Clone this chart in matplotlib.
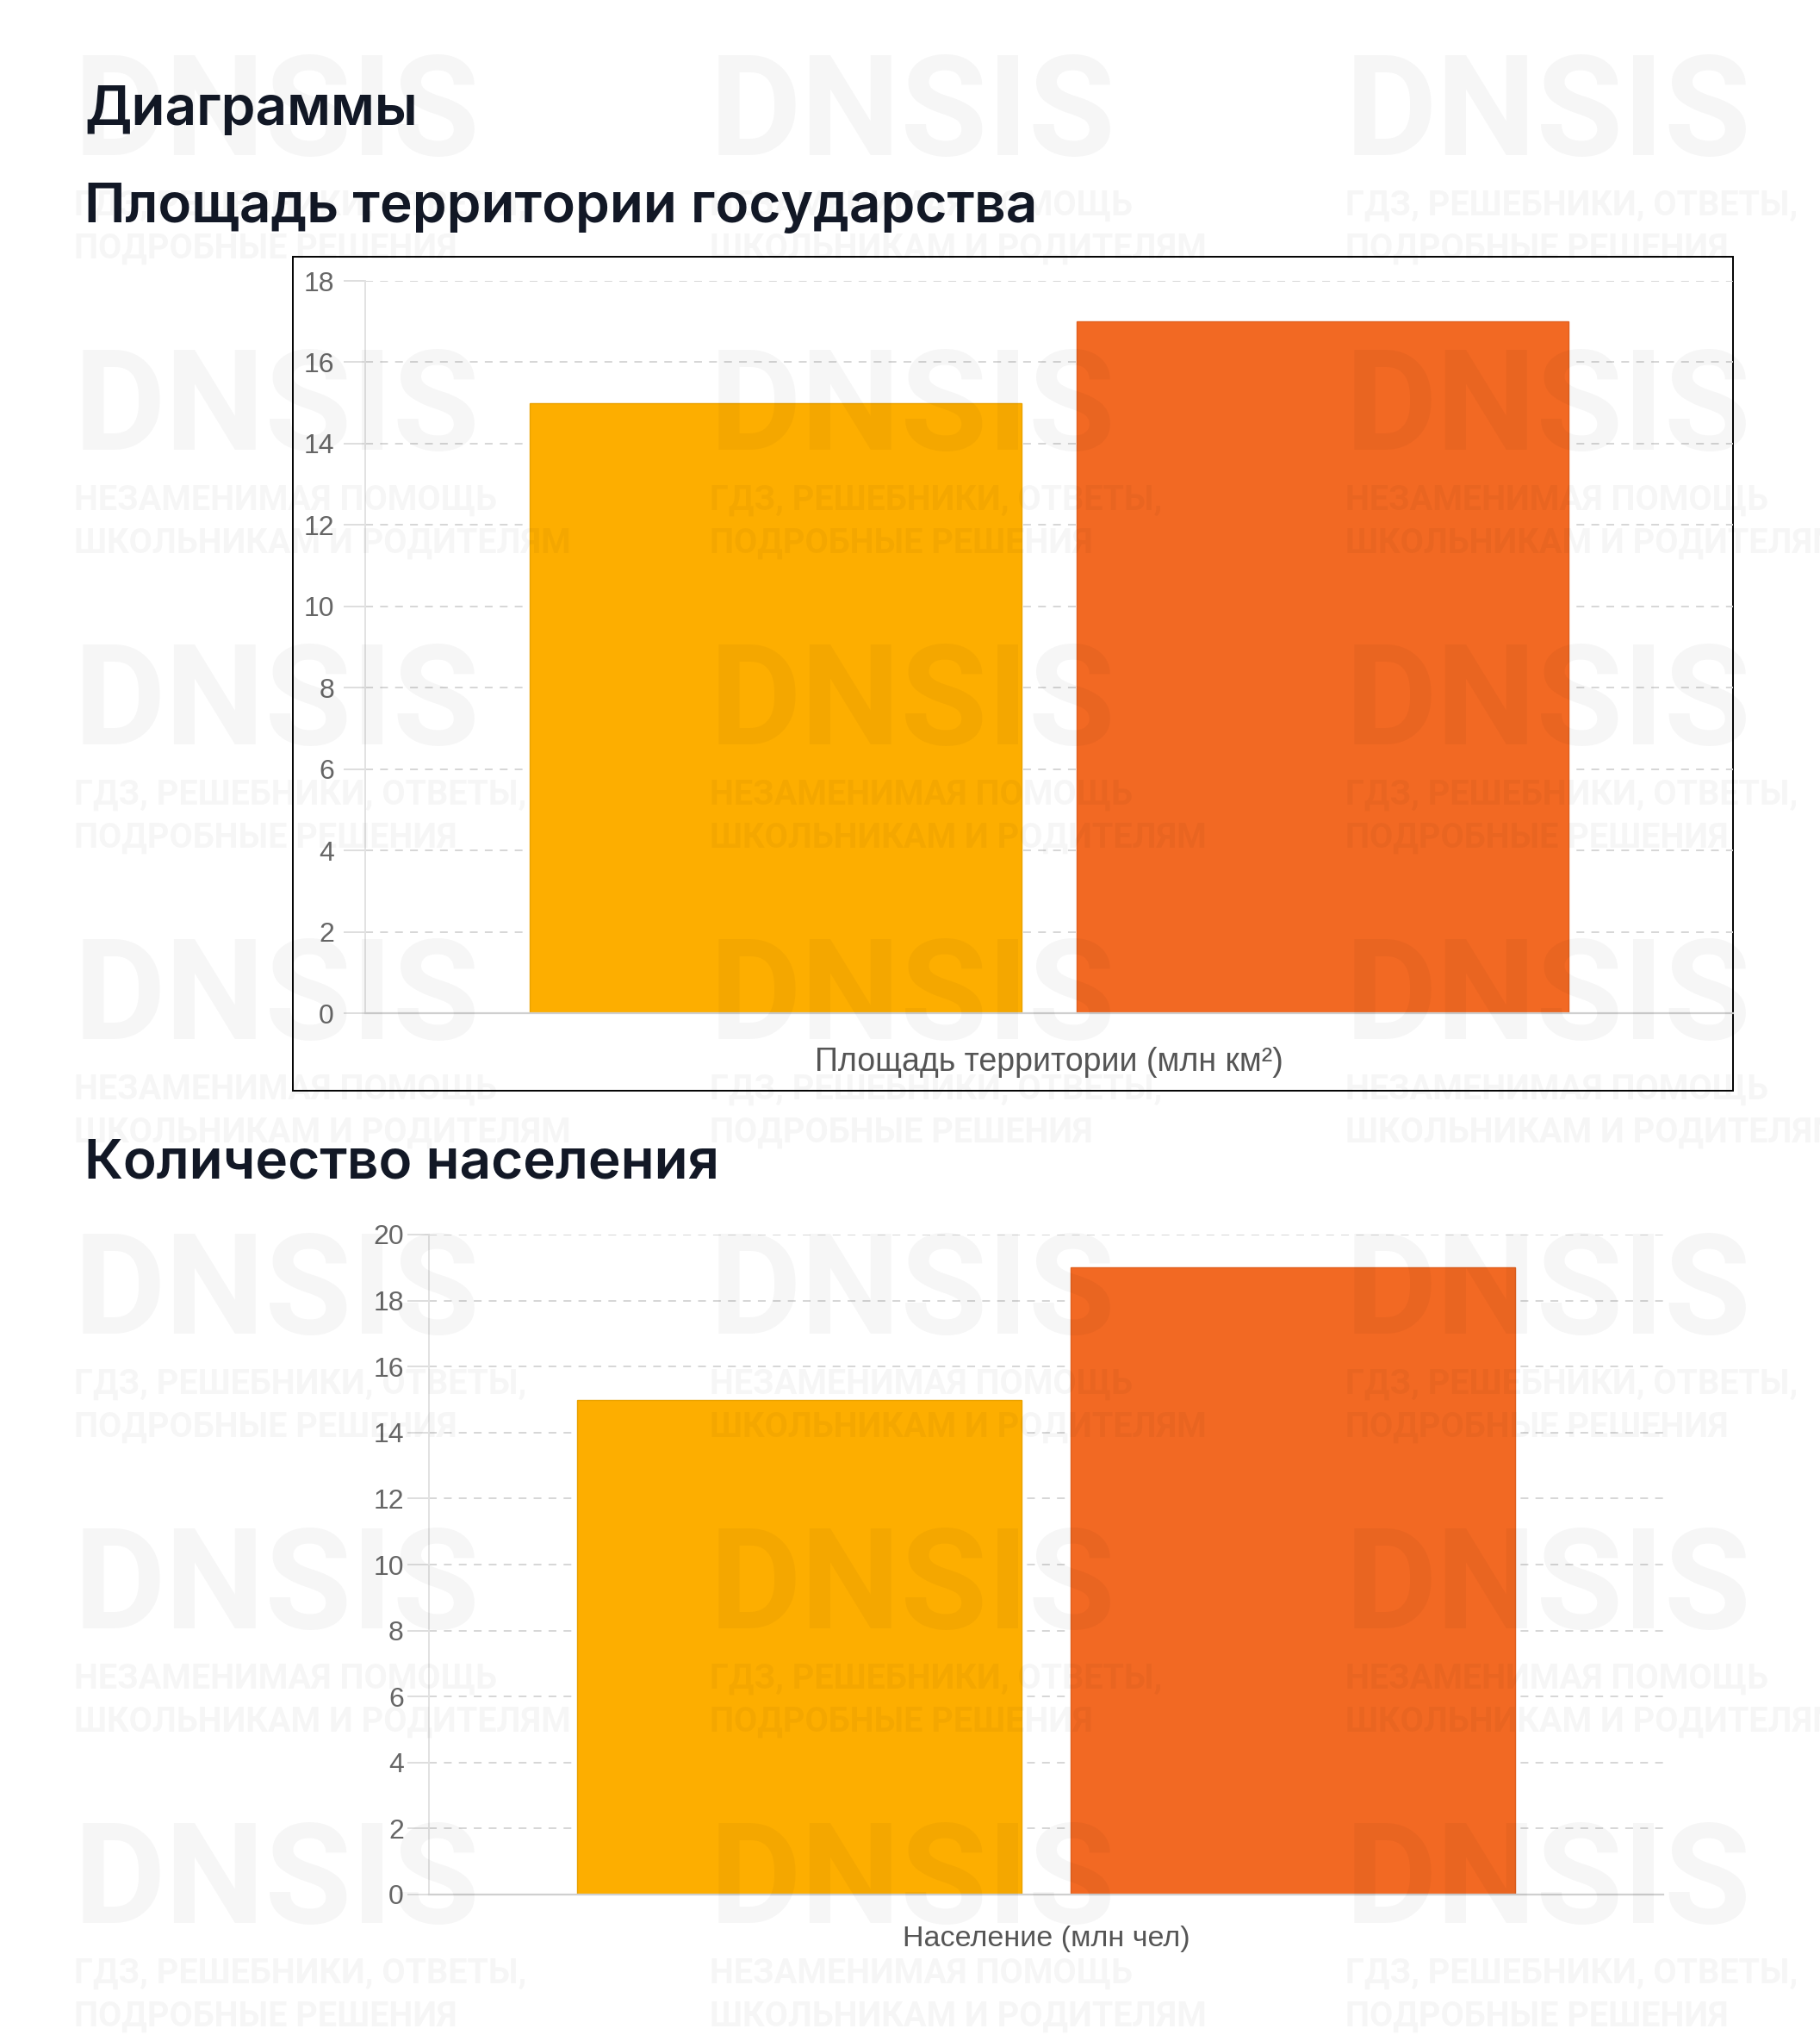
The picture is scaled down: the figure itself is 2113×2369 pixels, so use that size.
import matplotlib
matplotlib.use("Agg")
import matplotlib.pyplot as plt
from matplotlib.patches import Rectangle

# data
area_labels = ["Страна 1", "Страна 2"]
area_values = [15, 17]
area_ticks = list(range(0, 19, 2))
pop_values = [15, 19]
pop_ticks = list(range(0, 21, 2))
bar_colors = ["#fdae00", "#f26923"]

page_title = "Диаграммы"
area_title = "Площадь территории государства"
pop_title = "Количество населения"
area_xlabel = "Площадь территории (млн км²)"
pop_xlabel = "Население (млн чел)"

wm_big = "DNSIS"
wm_a = ["ГДЗ, РЕШЕБНИКИ, ОТВЕТЫ,", "ПОДРОБНЫЕ РЕШЕНИЯ"]
wm_b = ["НЕЗАМЕНИМАЯ ПОМОЩЬ", "ШКОЛЬНИКАМ И РОДИТЕЛЯМ"]

W, H = 2113, 2369
DPI = 100
plt.rcParams["lines.scale_dashes"] = False

fig = plt.figure(figsize=(W / DPI, H / DPI), dpi=DPI)
fig.patch.set_facecolor("white")


def px_axes(left, top, right, bottom, **kw):
    return fig.add_axes([left / W, 1 - bottom / H, (right - left) / W, (bottom - top) / H], **kw)


# background layer for titles and the frame around the first chart
bg = px_axes(0, 0, W, H, zorder=0)
bg.set_xlim(0, W)
bg.set_ylim(H, 0)
bg.axis("off")

title_font = dict(family=["Inter", "DejaVu Sans"], weight="semibold", color="#121826")
bg.text(98, 145, page_title, fontsize=46, va="baseline", **title_font)
bg.text(98, 258, area_title, fontsize=46, va="baseline", **title_font)
bg.text(98, 1367, pop_title, fontsize=46, va="baseline", **title_font)
bg.add_patch(Rectangle((340, 298), 2012 - 340, 1266 - 298, fill=False,
                       edgecolor="black", linewidth=1.4))

tick_font = ["Liberation Sans", "DejaVu Sans"]


def bar_chart(ax, values, ticks, xlabel, pad, xl_size, xl_pad):
    x = range(len(values))
    ax.bar(x, values, width=0.9, color=bar_colors, edgecolor=["#e9a200", "#e0601f"],
           linewidth=1.0, zorder=3)
    ax.set_xlim(-0.75, 1.75)
    ax.set_ylim(ticks[0], ticks[-1])
    ax.set_yticks(ticks)
    ax.set_xticks([])
    ax.set_facecolor("none")
    ax.grid(axis="y", color="#d6d6d6", linewidth=1.4, linestyle=(0, (6.5, 6.0)), zorder=1)
    for s in ["top", "right"]:
        ax.spines[s].set_visible(False)
    ax.spines["left"].set_color("#e2e2e2")
    ax.spines["left"].set_linewidth(1.4)
    ax.spines["bottom"].set_color("#cfcfcf")
    ax.spines["bottom"].set_linewidth(1.6)
    ax.spines["bottom"].set_zorder(4)
    ax.tick_params(axis="y", length=18, width=1.4, color="#dedede", pad=pad,
                   labelsize=23, labelcolor="#666666")
    for lab in ax.get_yticklabels():
        lab.set_family(tick_font)
    ax.set_xlabel(xlabel, fontsize=xl_size, color="#555555", family=tick_font, labelpad=xl_pad)


ax1 = px_axes(424, 326, 2012, 1176, zorder=2)
bar_chart(ax1, area_values, area_ticks, area_xlabel, 8, 27, 28)

ax2 = px_axes(498, 1433, 1931, 2199, zorder=2)
bar_chart(ax2, pop_values, pop_ticks, pop_xlabel, 3, 24.5, 26)

# faint watermark on top of everything
wm = px_axes(0, 0, W, H, zorder=10)
wm.set_xlim(0, W)
wm.set_ylim(H, 0)
wm.axis("off")
wm.patch.set_alpha(0)
wm_font = ["Roboto", "DejaVu Sans"]
col_x = [86, 824, 1562]
row_top = [60, 402, 744, 1086, 1428, 1770, 2112]
for r, top in enumerate(row_top):
    for c, x0 in enumerate(col_x):
        wm.text(x0, top + 120, wm_big, fontsize=118, weight="bold", family=wm_font,
                color="black", alpha=0.035, va="baseline")
        lines = wm_a if (r + c) % 2 == 0 else wm_b
        wm.text(x0, top + 190, lines[0], fontsize=28.5, weight="bold", family=wm_font,
                color="black", alpha=0.035, va="baseline")
        wm.text(x0, top + 240, lines[1], fontsize=28.5, weight="bold", family=wm_font,
                color="black", alpha=0.035, va="baseline")

fig.savefig("out.png", dpi=DPI)
